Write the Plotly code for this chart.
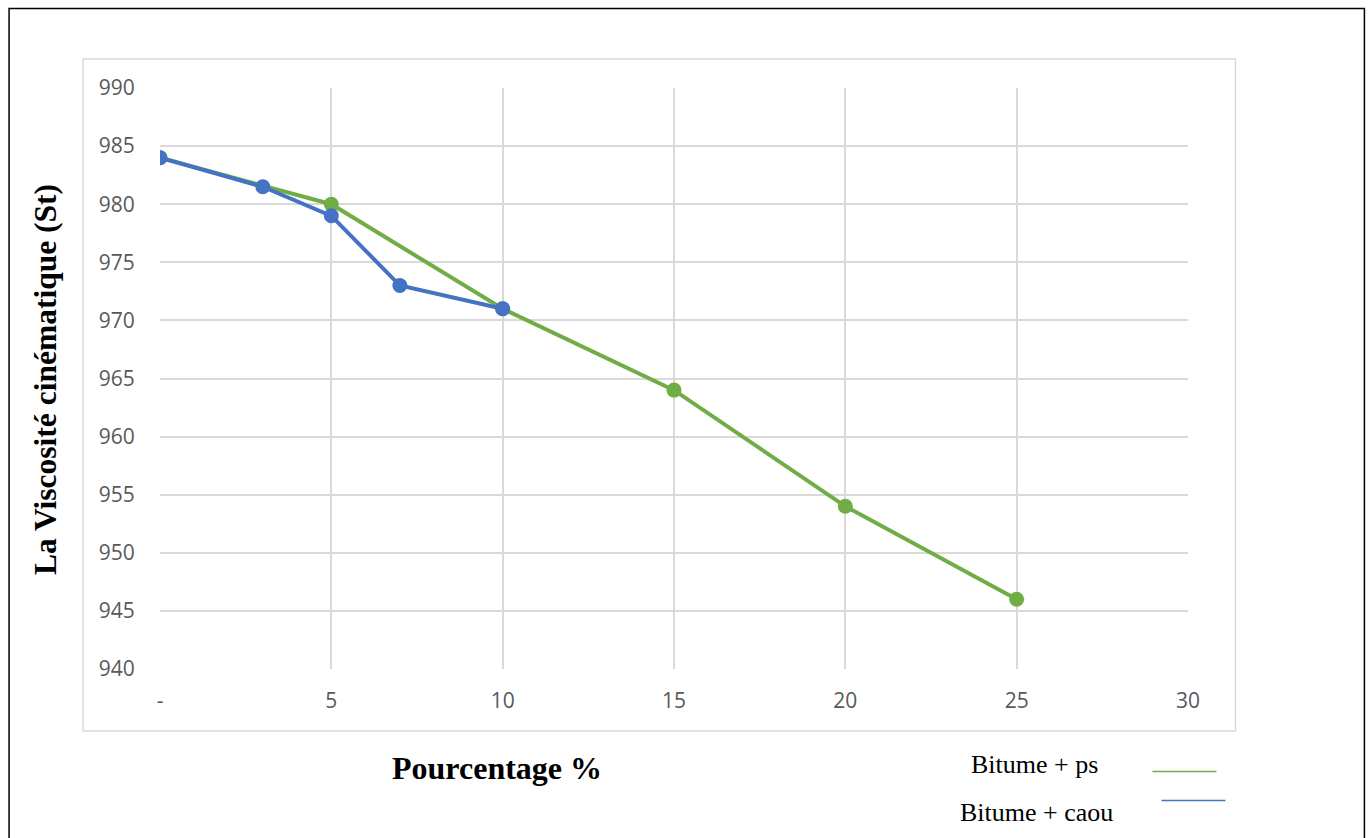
import plotly.graph_objects as go

# Viscosity data (St) against additive percentage
pct_ps = [0, 5, 10, 15, 20, 25]
visc_ps = [984, 980, 971, 964, 954, 946]

pct_caou = [0, 3, 5, 7, 10]
visc_caou = [984, 981.5, 979, 973, 971]

x_tickvals = [0, 5, 10, 15, 20, 25, 30]
x_ticktext = ["-", "5", "10", "15", "20", "25", "30"]
y_tickvals = [940, 945, 950, 955, 960, 965, 970, 975, 980, 985, 990]

GREEN = "#70AD47"
BLUE = "#4472C4"

W, H = 1371, 838
L, R, T, B = 160, 1188.5, 88, 669

def px(x):
    return (x - L) / (R - L)

def py(y):
    return (B - y) / (B - T)

fig = go.Figure()
fig.add_trace(go.Scatter(
    x=pct_ps, y=visc_ps, mode="lines+markers", name="Bitume + ps",
    line=dict(color=GREEN, width=4), marker=dict(color=GREEN, size=15),
))
fig.add_trace(go.Scatter(
    x=pct_caou, y=visc_caou, mode="lines+markers", name="Bitume + caou",
    line=dict(color=BLUE, width=4), marker=dict(color=BLUE, size=15),
))

tick_font = dict(family="Open Sans, Liberation Sans, sans-serif", size=21, color="#595959")

fig.update_xaxes(
    range=[0, 30], tickvals=x_tickvals, ticktext=x_ticktext,
    showgrid=True, gridcolor="#D9D9D9", gridwidth=1.5, zeroline=False,
    showline=False, ticks="outside", ticklen=13, tickcolor="rgba(0,0,0,0)",
    tickfont=tick_font, fixedrange=True,
)
fig.update_yaxes(
    range=[940, 990], tickvals=y_tickvals,
    showgrid=True, gridcolor="#D9D9D9", gridwidth=1.5, zeroline=False,
    showline=False, ticks="outside", ticklen=20, tickcolor="rgba(0,0,0,0)",
    tickfont=tick_font, fixedrange=True,
)

shapes = [
    # outer frame
    dict(type="rect", xref="paper", yref="paper",
         x0=px(9), x1=px(1365), y0=py(860), y1=py(8.5),
         line=dict(color="black", width=1.5), layer="below"),
    # chart area box
    dict(type="rect", xref="paper", yref="paper",
         x0=px(83), x1=px(1236), y0=py(731), y1=py(59),
         line=dict(color="#D9D9D9", width=1.5), layer="below"),
    # legend keys
    dict(type="line", xref="paper", yref="paper",
         x0=px(1153), x1=px(1217), y0=py(771.5), y1=py(771.5),
         line=dict(color=GREEN, width=1.5)),
    dict(type="line", xref="paper", yref="paper",
         x0=px(1162), x1=px(1226), y0=py(800.5), y1=py(800.5),
         line=dict(color=BLUE, width=1.5)),
]

serif = "Liberation Serif, Times New Roman, serif"
annotations = [
    dict(text="<b>Pourcentage %</b>", xref="paper", yref="paper",
         x=px(497), y=py(768), xanchor="center", yanchor="middle",
         showarrow=False, font=dict(family=serif, size=32, color="black")),
    dict(text="<b>La Viscosité cinématique (St)</b>", xref="paper", yref="paper",
         x=px(45), y=py(380), xanchor="center", yanchor="middle", textangle=-90,
         showarrow=False, font=dict(family=serif, size=31.5, color="black")),
    dict(text="Bitume + ps", xref="paper", yref="paper",
         x=px(1035), y=py(764), xanchor="center", yanchor="middle",
         showarrow=False, font=dict(family=serif, size=26, color="black")),
    dict(text="Bitume + caou", xref="paper", yref="paper",
         x=px(1037), y=py(812), xanchor="center", yanchor="middle",
         showarrow=False, font=dict(family=serif, size=26, color="black")),
]

fig.update_layout(
    width=W, height=H,
    margin=dict(l=L, r=W - R, t=T, b=H - B, pad=0),
    paper_bgcolor="white", plot_bgcolor="white",
    showlegend=False, shapes=shapes, annotations=annotations,
)

fig.write_html("out.html", config={"displayModeBar": False})
